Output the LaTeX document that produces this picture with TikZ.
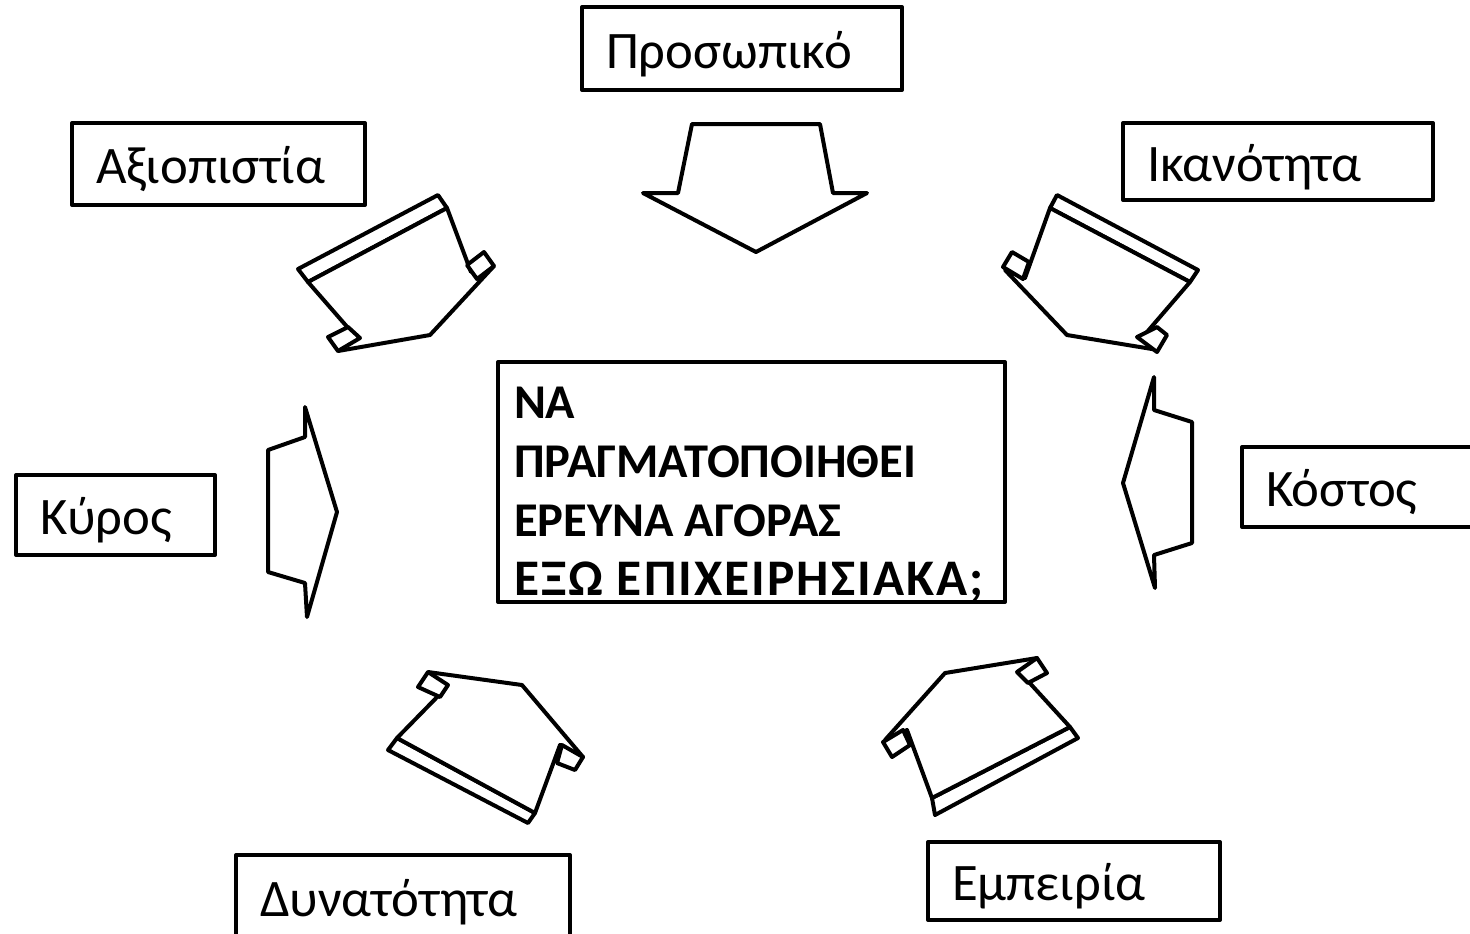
\documentclass[tikz,border=0pt]{standalone}
\usepackage{fontspec}
\setmainfont{Carlito}

\begin{document}
\begin{tikzpicture}[x=0.1mm, y=-0.1mm, line width=0.4mm, line join=round,
    box/.style={draw, align=left, inner xsep=2.4mm, text height=11.2pt, text depth=0pt,
        font=\fontsize{15}{18}\selectfont},
    blk/.style={draw, fill=white}]
            \useasboundingbox (0,0) rectangle (1470,933);

            \node (question) at (751.5,482) [draw, minimum width=50.7mm, minimum height=24mm] {};
            \node (questiontext) at (question.north west) [anchor=north west, xshift=1.6mm, yshift=-2.5mm,
                inner sep=0pt, align=left, font=\fontsize{13.8}{16.8}\selectfont\bfseries]
                {ΝΑ\\ΠΡΑΓΜΑΤΟΠΟΙΗΘΕΙ\\ΕΡΕΥΝΑ ΑΓΟΡΑΣ\\{\fontsize{14.6}{16.8}\selectfont\addfontfeature{LetterSpace=4}ΕΞΩ ΕΠΙΧΕΙΡΗΣΙΑΚΑ;}};

            \node (prosopiko) at (742,48.5) [box, text width=27.2mm, minimum height=8.3mm] {Προσωπικό};
            \node (axiopistia) at (218.5,164) [box, text width=24.5mm, minimum height=8.2mm] {Αξιοπιστία};
            \node (ikanotita) at (1278,161.5) [box, text width=26.2mm, minimum height=7.7mm] {Ικανότητα};
            \node (kostos) at (1371,487) [box, text width=21mm, minimum height=8mm] {Κόστος};
            \node (kyros) at (115.5,515) [box, text width=15.1mm, minimum height=8mm] {Κύρος};
            \node (dynatotita) at (403,897) [box, text width=28.6mm, minimum height=8.4mm] {Δυνατότητα};
            \node (empeiria) at (1074,881) [box, text width=24.4mm, minimum height=7.8mm] {Εμπειρία};

            \draw[blk] (692,124) -- (820,124) -- (833,193) -- (867,193) -- (756,252) -- (643,193) -- (678,193) -- cycle;
            \draw[blk] (305,407) -- (337,512) -- (307,617) -- (305,583) -- (268,572) -- (268,450) -- (305,437) -- cycle;
            \draw[blk] (1154,377) -- (1154,410) -- (1192,422) -- (1192,543) -- (1154,555) -- (1155,588) -- (1123,483) -- cycle;

            \draw[blk] (298,269) -- (438,195) -- (447,208) -- (308,282) -- cycle;
            \draw[blk] (308,282) -- (447,208) -- (471,272) -- (494,266) -- (430,335) -- (338,351) -- (356,337) -- cycle;
            \draw[blk] (467,265) -- (484,252) -- (494,266) -- (477,279) -- cycle;
            \draw[blk] (328,337) -- (348,327) -- (360,338) -- (338,351) -- cycle;

            \draw[blk] (1057,195) -- (1198,270) -- (1190,282) -- (1050,208) -- cycle;
            \draw[blk] (1050,208) -- (1190,282) -- (1147,332) -- (1158,350) -- (1067,335) -- (1005,270) -- (1025,278) -- cycle;
            \draw[blk] (1012,252) -- (1029,262) -- (1023,279) -- (1003,267) -- cycle;
            \draw[blk] (1137,337) -- (1157,327) -- (1167,335) -- (1157,352) -- cycle;

            \draw[blk] (388,750) -- (528,823) -- (535,813) -- (397,738) -- cycle;
            \draw[blk] (397,738) -- (535,813) -- (560,745) -- (583,757) -- (522,685) -- (428,672) -- (442,692) -- cycle;
            \draw[blk] (418,687) -- (428,672) -- (448,685) -- (440,697) -- cycle;
            \draw[blk] (557,763) -- (562,745) -- (583,757) -- (575,770) -- cycle;

            \draw[blk] (935,815) -- (1078,738) -- (1070,727) -- (932,798) -- cycle;
            \draw[blk] (932,798) -- (1070,727) -- (1027,680) -- (1037,658) -- (945,673) -- (885,740) -- (907,730) -- cycle;
            \draw[blk] (883,742) -- (903,730) -- (910,745) -- (892,757) -- cycle;
            \draw[blk] (1017,672) -- (1037,658) -- (1047,673) -- (1028,683) -- cycle;
        \end{tikzpicture}
\end{document}
